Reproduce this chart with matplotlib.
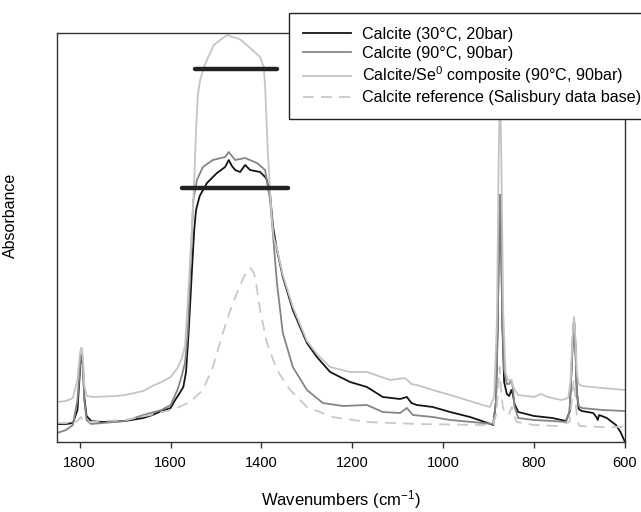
import matplotlib
matplotlib.use("Agg")
import matplotlib.pyplot as plt
import numpy as np

plt.rcParams['font.family'] = ['Liberation Sans', 'DejaVu Sans']
plt.rcParams['mathtext.default'] = 'regular'

# ---- data (wavenumber, absorbance in arbitrary units) ----
black_wn = [1850, 1830, 1815, 1805, 1800, 1797, 1795, 1793, 1790, 1785, 1775, 1750, 1700, 1660, 1640, 1620, 1600, 1590, 1580, 1572, 1566, 1560, 1553, 1548, 1544, 1536, 1520, 1498, 1480, 1472, 1465, 1458, 1447, 1436, 1425, 1403, 1392, 1388, 1381, 1375, 1366, 1353, 1331, 1300, 1278, 1249, 1205, 1168, 1133, 1095, 1080, 1070, 1058, 1023, 985, 941, 902, 890, 884, 880, 877, 875, 873, 870, 866, 860, 855, 850, 847, 843, 835, 800, 760, 730, 722, 717, 714, 712, 710, 706, 702, 695, 670, 663, 660, 657, 640, 620, 610, 600]
black_ab = [18, 18, 19, 32, 67, 85, 86, 78, 45, 26, 21, 20, 21, 24, 27, 31, 34, 42, 49, 55, 70, 112, 172, 212, 232, 246, 259, 269, 275, 282, 276, 272, 270, 277, 272, 270, 265, 262, 247, 217, 192, 165, 132, 99, 85, 70, 60, 55, 45, 43, 45, 39, 37, 35, 30, 25, 19, 17, 40, 120, 220, 247, 220, 120, 60, 48, 46, 52, 48, 38, 30, 26, 24, 21, 30, 80, 112, 120, 106, 50, 33, 31, 29, 25, 22, 27, 24, 17, 10, 0]

gray_wn = [1850, 1830, 1815, 1805, 1800, 1797, 1795, 1793, 1790, 1785, 1775, 1750, 1700, 1660, 1620, 1600, 1585, 1575, 1568, 1562, 1556, 1550, 1542, 1529, 1507, 1480, 1472, 1465, 1458, 1436, 1410, 1392, 1386, 1381, 1375, 1366, 1353, 1331, 1300, 1265, 1221, 1168, 1133, 1095, 1080, 1067, 1023, 985, 913, 890, 884, 880, 877, 875, 873, 870, 866, 860, 855, 850, 847, 843, 835, 800, 760, 730, 722, 717, 714, 712, 710, 706, 702, 695, 650, 600]
gray_ab = [9, 12, 17, 42, 72, 87, 88, 77, 42, 22, 18, 19, 21, 27, 32, 37, 52, 67, 80, 112, 182, 242, 262, 275, 282, 285, 290, 286, 282, 284, 279, 272, 255, 242, 209, 159, 109, 75, 52, 39, 36, 37, 30, 29, 34, 27, 25, 22, 19, 18, 40, 120, 220, 247, 220, 120, 72, 58, 58, 62, 55, 35, 24, 22, 21, 20, 30, 80, 115, 122, 108, 50, 36, 34, 32, 31]

light_wn = [1850, 1830, 1815, 1805, 1800, 1797, 1795, 1793, 1790, 1785, 1770, 1720, 1700, 1660, 1640, 1620, 1600, 1585, 1575, 1568, 1562, 1556, 1553, 1548, 1544, 1540, 1535, 1525, 1505, 1485, 1475, 1465, 1454, 1445, 1425, 1403, 1395, 1392, 1386, 1381, 1377, 1373, 1366, 1353, 1331, 1300, 1278, 1249, 1205, 1168, 1117, 1084, 1070, 1058, 1023, 970, 913, 897, 888, 882, 878, 875, 872, 868, 863, 858, 850, 845, 835, 800, 785, 770, 740, 725, 720, 716, 713, 712, 710, 706, 702, 695, 650, 600]
light_ab = [40, 41, 44, 62, 87, 94, 94, 84, 57, 46, 45, 46, 47, 51, 56, 60, 65, 74, 84, 97, 142, 190, 212, 262, 312, 347, 362, 377, 397, 404, 407, 405, 404, 402, 394, 385, 375, 355, 289, 250, 222, 205, 193, 167, 135, 101, 88, 75, 70, 70, 62, 64, 58, 57, 52, 45, 37, 35, 45, 120, 280, 370, 280, 130, 70, 62, 62, 54, 47, 45, 48, 45, 42, 44, 60, 100, 122, 125, 112, 70, 58, 56, 54, 52]

ref_wn = [1850, 1820, 1805, 1800, 1797, 1794, 1780, 1750, 1700, 1645, 1600, 1586, 1557, 1529, 1507, 1485, 1470, 1454, 1440, 1430, 1425, 1418, 1414, 1403, 1388, 1366, 1337, 1300, 1243, 1168, 1058, 913, 890, 883, 879, 876, 873, 869, 863, 855, 849, 845, 838, 800, 750, 722, 716, 713, 711, 708, 704, 700, 650, 600]
ref_ab = [19, 19, 21, 24, 25, 22, 20, 21, 22, 27, 32, 34, 40, 52, 75, 109, 130, 149, 164, 172, 174, 170, 165, 132, 99, 72, 52, 35, 25, 20, 18, 17, 18, 28, 55, 75, 55, 35, 28, 28, 35, 27, 20, 17, 16, 20, 45, 62, 58, 35, 20, 16, 15, 15]

# horizontal black bars (start wn, end wn, level)
bar_start = [1547, 1575]
bar_end = [1366, 1342]
bar_level = [373, 254]

labels = ["Calcite (30°C, 20bar)", "Calcite (90°C, 90bar)",
          "Calcite/Se$^{0}$ composite (90°C, 90bar)",
          "Calcite reference (Salisbury data base)"]

xticks = [1800, 1600, 1400, 1200, 1000, 800, 600]

fig = plt.figure(figsize=(6.41, 5.12), dpi=100)
ax = fig.add_axes([57/641, 70/512, 568/641, 409/512])

l1, = ax.plot(black_wn, black_ab, color='#151515', lw=1.3, label=labels[0])
l2, = ax.plot(gray_wn, gray_ab, color='#858585', lw=1.3, label=labels[1])
l3, = ax.plot(light_wn, light_ab, color='#c4c4c4', lw=1.3, label=labels[2])
l4, = ax.plot(ref_wn, ref_ab, color='#c8c8c8', lw=1.3, ls=(0, (6, 4)), label=labels[3])

for s, e, lv in zip(bar_start, bar_end, bar_level):
    ax.plot([s, e], [lv, lv], color='#222222', lw=3.2, solid_capstyle='round')

ax.set_xlim(1850, 600)
ax.set_ylim(0, 409)
ax.set_xticks(xticks)
ax.set_xticklabels([str(t) for t in xticks])
ax.set_yticks([])
ax.tick_params(axis='x', direction='out', length=4, width=1, labelsize=10.5, pad=6, color='#333333')
for sp in ax.spines.values():
    sp.set_color('#333333')
    sp.set_linewidth(1.0)

ax.set_xlabel("Wavenumbers (cm$^{-1}$)", fontsize=12, labelpad=13)
ax.set_ylabel("Absorbance", fontsize=11.5)
ax.yaxis.set_label_coords(-0.069, 0.555)

leg = fig.legend(handles=[l1, l2, l3, l4], loc='upper left',
                 bbox_to_anchor=(289/641, 499/512), bbox_transform=fig.transFigure,
                 borderaxespad=0.0,
                 fontsize=11.6, frameon=True, fancybox=False, framealpha=1,
                 edgecolor='#222222', handlelength=3.0, handletextpad=0.7,
                 labelspacing=0.25, borderpad=0.85)
leg.get_frame().set_linewidth(1.0)

fig.savefig("out.png", dpi=100)
